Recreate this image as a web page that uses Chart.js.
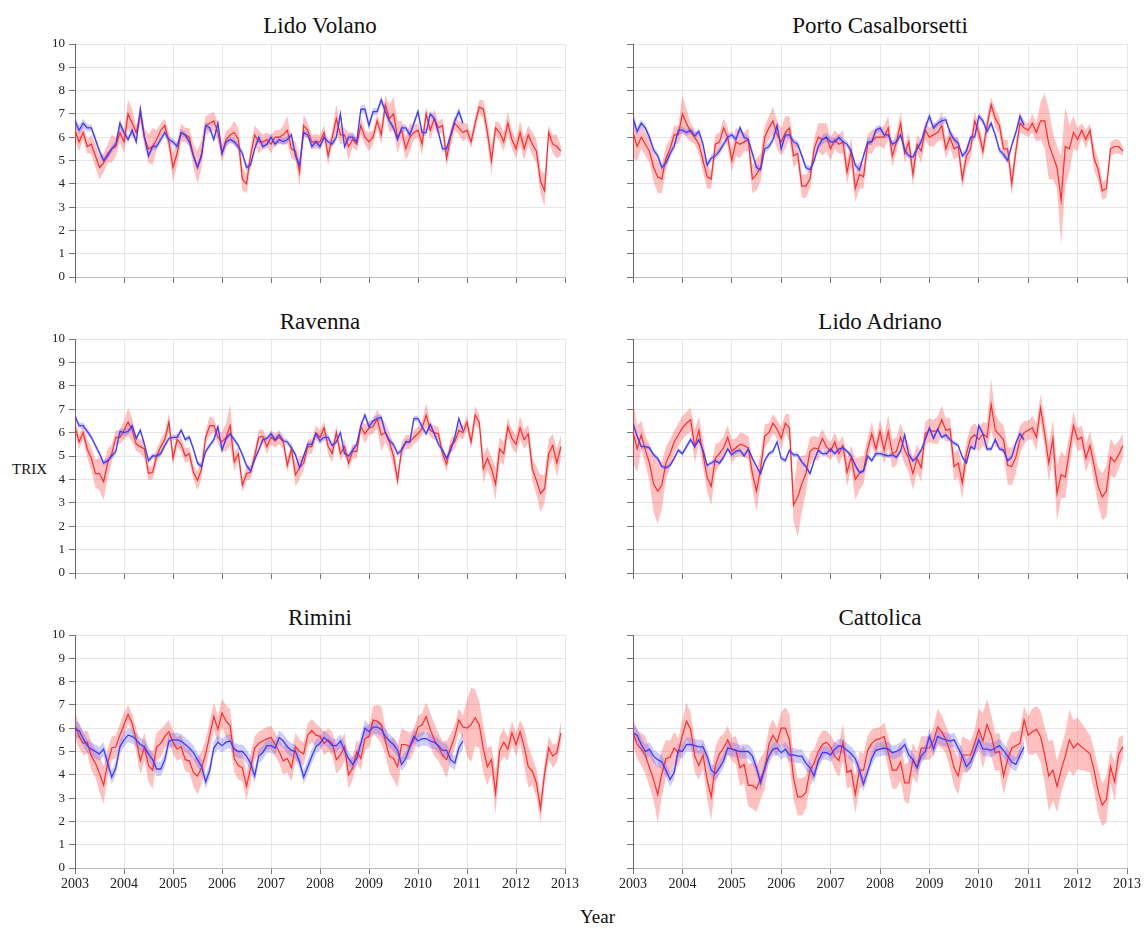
<!DOCTYPE html>
<html>
<head>
<meta charset="utf-8">
<script src="https://cdn.jsdelivr.net/npm/chart.js@4.4.0/dist/chart.umd.min.js"></script>
<style>
  body { margin: 0; background: #fff; width: 1144px; height: 929px; position: relative; overflow: hidden; font-family: "Liberation Serif", serif; }
  .box { position: absolute; }
  .ttl { position: absolute; font-size: 23px; line-height: 26px; text-align: center; color: #111; width: 400px; }
  .lbl { position: absolute; color: #111; }
</style>
</head>
<body>
<div class="ttl" style="left:120px;top:13px">Lido Volano</div>
<div class="ttl" style="left:680px;top:13px">Porto Casalborsetti</div>
<div class="ttl" style="left:120px;top:309px">Ravenna</div>
<div class="ttl" style="left:680px;top:309px">Lido Adriano</div>
<div class="ttl" style="left:120px;top:605px">Rimini</div>
<div class="ttl" style="left:680px;top:605px">Cattolica</div>
<div class="lbl" style="left:12px;top:461px;font-size:15px">TRIX</div>
<div class="lbl" style="left:580px;top:906px;font-size:19px">Year</div>

<script>
// monthly TRIX, Jan 2003 .. Dec 2012 (red) and Jan 2003 .. Dec 2010 (blue)
const startYear = 2003;
const yearTicks = [2003, 2004, 2005, 2006, 2007, 2008, 2009, 2010, 2011, 2012, 2013];
const trixTicks = [0, 1, 2, 3, 4, 5, 6, 7, 8, 9, 10];

// Lido Volano
const lvRed = [
  6.3,5.8,6.2,5.6,5.7,5.2,4.7,4.9,5.3,5.5,5.6,6.2,
  5.8,7.0,6.6,6.2,7.0,6.0,5.5,5.6,5.9,6.3,6.5,5.8,
  4.7,5.3,6.2,6.1,6.0,5.2,4.7,5.3,6.5,6.6,6.7,6.2,
  5.3,5.9,6.1,6.2,5.9,4.2,4.0,5.2,6.1,5.8,5.8,5.9,
  5.7,6.0,6.0,6.1,6.3,5.5,5.4,4.5,6.5,6.3,5.8,5.8,
  5.8,6.2,5.2,6.0,6.8,6.1,6.1,5.6,5.9,5.7,6.5,6.0,
  5.8,6.0,6.7,6.1,7.4,6.8,7.0,6.0,6.3,5.5,6.0,6.2,
  6.3,5.7,7.0,6.3,6.8,6.4,6.5,5.1,6.0,6.6,6.4,6.2,
  6.3,5.8,6.6,7.3,7.2,6.2,5.0,6.4,6.2,5.8,6.6,5.9,
  5.5,6.2,5.5,6.1,5.7,5.4,4.1,3.7,6.2,5.7,5.6,5.4];
const lvRedW = [
  0.4,0.4,0.3,0.3,0.4,0.5,0.5,0.4,0.4,0.6,0.4,0.4,
  0.5,0.6,0.6,0.3,0.4,0.4,0.6,0.8,0.4,0.3,0.3,0.4,
  0.6,0.5,0.4,0.3,0.4,0.5,0.7,0.6,0.4,0.4,0.4,0.4,
  0.4,0.4,0.3,0.5,0.5,0.5,0.4,0.4,0.4,0.5,0.3,0.3,
  0.4,0.3,0.3,0.4,0.6,0.4,0.4,0.6,0.5,0.3,0.3,0.3,
  0.3,0.3,0.4,0.3,0.6,0.4,0.3,0.6,0.3,0.3,0.4,0.3,
  0.4,0.3,0.3,0.4,0.4,0.6,0.7,0.7,0.4,0.5,0.6,0.3,
  0.3,0.5,0.3,0.4,0.4,0.3,0.3,0.4,0.4,0.3,0.3,0.4,
  0.3,0.3,0.3,0.3,0.4,0.5,0.6,0.3,0.4,0.4,0.5,0.4,
  0.4,0.5,0.5,0.4,0.5,0.5,0.5,0.7,0.3,0.4,0.5,0.2];
const lvBlue = [
  6.7,6.3,6.6,6.4,6.4,5.9,5.4,5.0,5.2,5.5,5.7,6.6,
  6.2,5.9,6.3,5.8,7.2,6.0,5.2,5.6,5.6,5.9,6.2,5.9,
  5.8,5.6,6.2,6.1,5.8,5.2,4.7,5.2,6.5,6.4,5.9,6.6,
  5.3,5.8,5.9,5.8,5.6,5.3,4.7,4.8,5.5,6.0,5.6,5.7,
  6.0,5.7,5.9,5.8,5.9,6.1,5.2,4.8,6.2,6.1,5.6,5.8,
  5.6,6.0,5.8,5.7,6.0,7.0,5.6,6.0,6.0,5.8,7.2,7.2,
  6.5,7.1,7.1,7.6,7.1,6.7,6.4,5.9,6.4,6.4,6.1,6.6,
  7.1,6.2,6.2,7.0,6.8,6.2,5.5,5.5,6.1,6.7,7.1,6.6];
const lvBlueW = [
  .2,.2,.2,.15,.15,.15,.15,.15,.15,.15,.15,.2,
  .15,.15,.15,.15,.25,.15,.15,.15,.15,.15,.15,.15,
  .15,.15,.15,.15,.15,.15,.15,.15,.15,.15,.15,.15,
  .15,.15,.15,.15,.15,.15,.15,.15,.15,.15,.15,.15,
  .15,.15,.15,.15,.15,.15,.2,.15,.15,.15,.15,.15,
  .15,.15,.15,.15,.15,.15,.15,.15,.15,.15,.15,.2,
  .2,.15,.15,.2,.15,.15,.15,.15,.15,.15,.15,.15,
  .15,.15,.15,.15,.15,.15,.15,.15,.15,.15,.2,.15];

// Porto Casalborsetti
const pcRed = [
  6.2,5.6,6.0,5.7,5.4,4.7,4.3,4.2,5.1,5.5,6.1,6.1,
  7.0,6.6,6.2,6.0,5.7,5.0,4.3,4.2,5.7,5.8,6.4,6.0,
  5.0,5.8,5.7,5.8,5.9,4.2,4.4,4.7,6.0,6.4,6.7,6.1,
  5.8,6.2,6.4,5.2,5.3,3.9,3.9,4.2,5.5,6.0,5.9,6.0,
  5.5,5.9,5.7,5.8,4.5,5.4,3.8,4.4,4.3,5.7,5.8,6.0,
  6.0,6.0,6.4,5.2,5.8,6.6,5.3,5.8,4.4,5.7,5.4,6.3,
  6.0,6.1,6.2,6.5,5.5,6.0,5.5,5.6,4.2,5.2,5.5,6.7,
  6.2,5.4,6.5,7.4,6.8,6.5,5.5,5.5,4.0,5.4,6.6,6.4,
  6.3,6.6,6.2,6.7,6.7,5.7,5.2,4.7,3.3,5.6,5.5,6.2,
  5.9,6.3,5.9,6.3,5.1,4.6,3.7,3.8,5.5,5.6,5.6,5.4];
const pcRedW = [
  1.1,0.6,0.5,0.5,0.5,0.6,0.7,0.6,0.5,0.4,0.4,0.4,
  0.8,0.6,0.4,0.3,0.4,0.5,0.5,0.4,0.4,0.4,0.4,0.4,
  0.5,0.6,0.6,0.4,0.5,0.6,0.7,0.6,0.5,0.5,0.6,0.6,
  0.6,0.7,0.5,0.5,0.4,0.5,0.5,0.4,0.4,0.6,0.7,0.6,
  0.5,0.4,0.4,0.5,0.5,0.6,0.6,0.6,0.5,0.4,0.5,0.4,
  0.4,0.5,0.5,0.5,0.4,0.5,0.4,0.4,0.5,0.4,0.5,0.4,
  0.4,0.5,0.4,0.6,0.4,0.4,0.5,0.4,0.4,0.5,0.4,0.4,
  0.4,0.4,0.4,0.3,0.4,0.4,0.4,0.4,0.5,0.4,0.4,0.3,
  0.3,0.4,0.4,0.8,1.2,1.5,1.0,0.9,1.9,1.7,1.0,0.7,
  0.5,0.3,0.4,0.3,0.5,0.5,0.4,0.4,0.3,0.3,0.3,0.2];
const pcBlue = [
  6.8,6.25,6.6,6.4,6.0,5.45,5.2,4.7,4.9,5.3,5.6,6.3,
  6.3,6.2,6.3,6.05,6.25,5.7,4.8,5.1,5.2,5.4,5.7,6.0,
  6.1,5.9,6.4,6.0,5.9,5.3,4.7,4.6,5.5,5.6,5.9,6.5,
  5.5,6.1,6.1,5.8,5.7,5.2,4.7,4.6,5.0,5.6,5.9,6.0,
  5.8,5.8,6.0,5.8,5.7,5.4,4.8,4.6,5.2,5.8,5.8,6.3,
  6.4,6.1,6.1,5.7,5.8,6.1,5.45,5.2,5.15,5.5,5.8,6.4,
  6.9,6.4,6.6,6.7,6.75,6.2,5.9,5.75,5.2,5.4,6.0,6.0,
  6.9,6.7,6.25,6.6,6.1,5.45,5.25,5.0,5.65,6.2,6.9,6.5];
const pcBlueW = [
  .2,.2,.15,.15,.15,.15,.15,.15,.15,.15,.15,.15,
  .15,.15,.15,.15,.15,.15,.15,.15,.15,.15,.15,.15,
  .15,.15,.15,.15,.15,.15,.15,.15,.15,.15,.15,.2,
  .15,.15,.15,.15,.15,.15,.15,.15,.15,.15,.2,.2,
  .2,.15,.15,.15,.15,.15,.15,.15,.15,.15,.15,.15,
  .15,.15,.15,.15,.15,.15,.15,.15,.15,.15,.15,.15,
  .2,.15,.15,.15,.15,.15,.15,.15,.15,.15,.15,.15,
  .15,.15,.15,.15,.15,.15,.15,.15,.15,.15,.2,.15];

// Ravenna
const raRed = [
  6.25,5.6,6.0,5.3,4.9,4.25,4.25,3.9,4.7,5.1,5.8,5.8,
  6.1,6.45,6.1,5.5,5.4,5.3,4.25,4.3,5.0,5.4,5.7,6.45,
  4.9,5.7,5.5,5.0,5.1,4.3,3.95,4.45,5.8,6.3,6.3,5.8,
  5.6,5.8,6.3,4.75,5.1,3.75,4.25,4.3,5.0,5.8,5.85,5.4,
  5.8,5.65,5.8,5.6,4.6,5.3,4.2,4.5,4.7,5.4,5.4,6.0,
  5.8,6.2,5.4,5.1,6.0,5.1,5.4,4.7,5.2,5.2,6.25,5.95,
  6.2,6.25,6.6,5.9,6.0,5.6,5.0,3.95,5.3,5.6,5.6,5.8,
  5.95,6.2,6.75,6.1,6.0,5.95,5.1,4.65,5.45,5.6,6.1,6.0,
  6.45,5.6,6.75,6.45,4.45,4.9,4.45,3.8,5.3,5.1,6.25,5.75,
  5.5,6.2,5.7,5.95,4.45,3.95,3.4,3.6,5.1,5.45,4.7,5.4];
const raRedW = [
  0.3,0.3,0.3,0.4,0.5,0.6,0.7,0.8,0.6,0.4,0.3,0.3,
  0.4,0.6,0.5,0.3,0.3,0.4,0.3,0.3,0.3,0.3,0.3,0.4,
  0.3,0.3,0.3,0.3,0.3,0.3,0.4,0.4,0.3,0.4,0.3,0.3,
  0.4,0.6,0.9,0.4,0.3,0.3,0.3,0.3,0.3,0.3,0.3,0.3,
  0.3,0.3,0.3,0.3,0.3,0.3,0.5,0.5,0.3,0.3,0.3,0.3,
  0.3,0.3,0.3,0.4,0.3,0.3,0.3,0.3,0.3,0.3,0.3,0.4,
  0.3,0.3,0.4,0.7,0.4,0.4,0.5,0.3,0.3,0.3,0.3,0.3,
  0.3,0.3,0.5,0.3,0.3,0.3,0.3,0.3,0.3,0.3,0.3,0.3,
  0.3,0.3,0.4,0.3,0.6,0.5,0.5,0.7,0.5,0.5,0.4,0.4,
  0.4,0.5,0.4,0.4,0.5,0.6,0.8,0.6,0.6,0.5,0.6,0.5];
const raBlue = [
  6.7,6.3,6.3,6.05,5.8,5.45,5.1,4.7,4.8,5.0,5.2,6.05,
  6.0,6.05,6.3,5.75,6.1,5.5,4.8,5.0,5.0,5.1,5.45,5.75,
  5.8,5.8,6.1,5.7,5.8,5.3,4.7,4.55,5.2,5.45,5.7,6.25,
  5.25,5.75,5.95,5.7,5.45,5.05,4.6,4.35,4.85,5.25,5.7,5.75,
  5.95,5.7,5.9,5.65,5.6,5.35,5.05,4.5,5.0,5.5,5.5,5.95,
  5.65,5.8,5.8,5.45,5.6,6.0,5.1,5.0,5.25,5.5,6.3,6.75,
  6.25,6.5,6.6,6.65,6.0,5.65,5.5,5.1,5.25,5.6,5.6,6.6,
  6.6,6.25,5.95,6.35,5.95,5.5,5.25,4.9,5.25,5.8,6.6,6.1];
const raBlueW = [
  .15,.12,.12,.12,.12,.12,.12,.12,.12,.12,.15,.15,
  .15,.15,.15,.12,.12,.12,.12,.12,.12,.12,.12,.12,
  .12,.12,.12,.12,.12,.12,.12,.12,.12,.12,.12,.12,
  .12,.12,.12,.12,.12,.12,.12,.12,.12,.12,.12,.12,
  .12,.12,.12,.12,.12,.12,.12,.12,.12,.12,.12,.12,
  .15,.15,.15,.12,.12,.12,.12,.12,.12,.12,.12,.15,
  .15,.15,.15,.15,.12,.12,.12,.12,.12,.12,.12,.12,
  .12,.12,.12,.12,.12,.12,.12,.12,.12,.12,.12,.12];

// Lido Adriano
const laRed = [
  6.05,5.3,5.9,5.25,4.7,3.8,3.5,3.75,4.7,5.1,5.6,5.9,
  6.2,6.4,6.55,5.4,6.1,5.1,4.1,3.7,4.9,5.1,5.35,5.8,
  5.2,5.35,5.5,5.45,5.35,4.25,3.5,4.45,5.85,6.0,6.4,6.15,
  5.75,6.4,6.2,2.9,3.25,3.8,4.25,5.2,5.35,5.3,5.75,5.4,
  5.2,5.6,5.1,5.45,4.3,4.95,4.0,4.25,4.4,5.3,5.95,5.3,
  6.05,5.25,6.05,5.1,5.2,5.8,5.25,4.9,4.25,4.9,4.5,5.95,
  6.1,6.05,6.1,6.55,6.1,6.15,4.55,4.7,3.85,5.1,5.75,5.9,
  5.7,5.95,5.8,7.2,6.1,5.9,5.7,4.6,4.55,4.95,5.7,6.0,
  6.1,6.2,5.8,7.05,5.95,4.7,5.75,3.4,4.2,4.1,5.2,6.3,
  5.7,5.8,4.9,5.45,4.6,3.7,3.25,3.5,4.95,4.75,5.05,5.45];
const laRedW = [
  1.3,1.0,0.6,0.6,0.8,1.2,1.4,1.0,0.7,0.6,0.5,0.5,
  0.5,0.5,0.5,0.7,0.6,0.6,0.6,0.8,0.6,0.5,0.5,0.5,
  0.5,0.4,0.5,0.5,0.5,0.6,0.9,0.6,0.5,0.4,0.4,0.4,
  0.5,0.4,0.6,0.7,1.7,1.2,0.8,0.6,0.5,0.5,0.4,0.4,
  0.4,0.4,0.5,0.4,0.6,0.5,0.9,0.7,0.6,0.5,0.5,0.4,
  0.5,0.6,0.7,0.6,0.6,0.6,0.6,0.6,0.7,0.6,0.6,0.5,
  0.5,0.5,0.6,0.6,0.5,0.5,0.6,0.6,0.7,0.5,0.5,0.5,
  0.5,0.5,0.6,1.1,0.7,0.6,0.6,0.8,0.8,0.7,0.6,0.5,
  0.4,0.5,0.6,0.6,0.6,0.8,0.8,1.2,1.0,0.9,0.7,0.6,
  0.5,0.5,0.6,0.6,0.7,0.8,1.0,1.1,0.8,0.7,0.6,0.5];
const laBlue = [
  6.4,5.85,5.4,5.4,5.35,5.05,4.9,4.55,4.5,4.6,4.9,5.25,
  5.1,5.4,5.7,5.4,5.7,5.25,4.6,4.7,4.8,4.7,4.95,5.3,
  5.05,5.2,5.25,5.0,5.3,4.9,4.55,4.25,4.8,5.1,5.2,5.6,
  4.9,4.8,5.25,5.05,5.05,4.75,4.55,4.25,4.8,5.25,5.1,5.1,
  5.3,5.1,5.3,5.35,5.2,5.0,4.6,4.3,4.35,5.0,4.8,5.1,
  5.1,5.05,5.0,5.05,4.95,5.2,5.9,5.05,4.8,4.95,5.25,5.7,
  6.2,5.75,6.15,5.8,5.9,5.7,5.55,5.45,4.95,4.7,5.4,5.3,
  6.3,5.95,5.3,5.3,5.7,5.3,5.25,4.8,4.95,5.55,5.95,5.7];
const laBlueW = [
  .12,.1,.1,.1,.1,.1,.1,.1,.1,.1,.1,.1,
  .1,.12,.12,.1,.1,.1,.1,.1,.1,.1,.1,.1,
  .1,.1,.1,.1,.1,.1,.1,.1,.1,.1,.1,.1,
  .1,.1,.1,.1,.1,.1,.1,.1,.1,.1,.1,.1,
  .1,.1,.1,.1,.1,.1,.1,.1,.1,.1,.1,.1,
  .1,.1,.1,.1,.1,.1,.12,.1,.1,.1,.1,.1,
  .12,.1,.1,.1,.1,.1,.1,.1,.1,.1,.1,.1,
  .12,.1,.1,.1,.1,.1,.1,.1,.1,.1,.12,.12];

// Rimini
const riRed = [
  6.15,5.65,5.35,5.4,4.8,4.5,4.05,3.55,4.5,5.15,5.2,5.7,
  6.15,6.6,6.2,5.5,4.6,5.2,4.4,4.2,5.2,5.35,5.65,5.85,
  5.4,5.1,5.2,4.65,4.6,4.1,3.95,4.3,4.9,5.7,6.5,5.95,
  6.65,6.3,6.1,4.7,4.4,4.3,3.5,4.3,5.15,5.35,5.45,5.55,
  5.6,5.3,5.0,4.6,4.7,4.3,5.2,5.0,4.9,5.7,5.9,5.7,
  5.65,5.35,5.5,5.35,4.65,4.85,5.2,4.0,4.3,5.0,4.7,5.55,
  5.65,6.35,6.3,6.15,5.45,4.8,4.7,4.35,5.3,5.3,5.2,5.5,
  6.05,6.15,6.5,5.95,5.5,5.2,4.85,4.65,5.15,5.65,6.35,6.05,
  6.0,6.15,6.45,6.15,5.1,4.35,4.65,3.2,5.05,5.4,5.1,5.8,
  5.3,5.85,5.2,4.35,4.15,3.65,2.55,4.05,5.15,4.8,4.95,5.8];
const riRedW = [
  0.6,0.5,0.5,0.5,0.6,0.6,0.8,0.8,0.6,0.5,0.5,0.5,
  0.5,0.4,0.4,0.5,0.6,0.6,0.7,0.8,0.6,0.6,0.5,0.5,
  0.5,0.5,0.5,0.5,0.5,0.6,0.8,0.7,0.6,0.6,0.6,0.6,
  0.6,0.7,0.7,0.6,0.6,0.6,0.6,0.6,0.5,0.5,0.5,0.5,
  0.5,0.5,0.5,0.6,0.6,0.6,0.6,0.5,0.5,0.5,0.5,0.5,
  0.4,0.5,0.5,0.5,0.6,0.6,0.6,0.6,0.5,0.5,0.5,0.5,
  0.5,0.6,0.7,0.8,0.6,0.7,0.9,0.9,0.7,0.6,0.6,0.5,
  0.5,0.5,0.6,0.7,0.7,0.6,0.6,0.8,0.6,0.5,0.5,0.5,
  1.2,1.6,1.2,1.0,1.0,0.8,0.6,0.9,0.6,0.6,0.5,0.5,
  0.5,0.5,0.8,0.9,0.6,0.6,0.6,0.5,0.5,0.5,0.4,0.5];
const riBlue = [
  5.95,5.9,5.55,5.25,5.1,5.0,4.9,5.1,4.5,3.9,4.3,5.2,
  5.5,5.7,5.65,5.5,5.3,5.2,4.9,4.65,4.25,4.25,4.65,5.45,
  5.5,5.5,5.45,5.3,5.15,4.95,4.65,4.35,3.7,4.2,5.15,5.4,
  5.25,5.4,5.45,5.1,5.0,5.0,4.8,4.5,3.95,4.8,4.95,5.25,
  5.25,5.15,5.6,5.45,5.2,5.05,5.0,4.55,3.9,4.35,4.8,5.2,
  5.35,5.6,5.45,5.25,5.25,5.45,5.05,4.7,4.45,4.7,5.35,6.0,
  5.85,6.05,6.05,5.95,5.65,5.45,5.3,5.05,4.45,4.7,5.2,5.65,
  5.45,5.55,5.55,5.45,5.4,5.25,5.05,5.05,4.65,4.5,5.15,5.45];
const riBlueW = [
  .35,.35,.3,.3,.3,.3,.3,.3,.3,.3,.3,.3,
  .3,.3,.3,.3,.3,.3,.3,.3,.3,.3,.3,.3,
  .3,.3,.3,.3,.3,.3,.3,.3,.3,.3,.3,.3,
  .3,.3,.3,.3,.3,.3,.3,.3,.3,.3,.3,.3,
  .3,.3,.3,.3,.3,.3,.3,.3,.3,.3,.3,.3,
  .3,.3,.3,.3,.3,.3,.3,.3,.3,.3,.35,.35,
  .3,.3,.3,.3,.3,.3,.3,.3,.3,.3,.3,.3,
  .3,.3,.3,.3,.3,.3,.3,.3,.3,.3,.3,.35];

// Cattolica
const caRed = [
  5.85,5.3,5.1,4.85,4.3,3.8,3.15,4.05,4.7,4.75,5.15,4.95,
  5.7,6.3,5.95,4.8,4.4,4.85,3.8,3.05,4.4,4.9,5.15,5.5,
  5.1,5.05,4.3,4.45,3.55,3.55,3.4,3.85,4.2,5.3,5.7,5.4,
  6.0,6.0,5.5,3.85,3.05,3.05,3.25,4.2,4.5,5.0,5.3,5.4,
  5.2,4.8,4.6,5.4,4.1,4.2,3.15,4.2,4.2,5.05,5.35,5.5,
  5.55,5.65,4.95,4.2,4.2,4.55,3.65,3.65,4.65,4.3,5.15,5.15,
  5.15,5.45,6.05,5.85,5.5,5.0,4.3,3.95,4.85,4.85,4.85,5.35,
  5.95,5.45,6.15,5.7,4.95,5.0,3.95,4.65,5.15,5.25,5.35,6.35,
  5.7,5.85,5.95,5.65,4.85,3.95,4.2,3.5,4.2,4.8,5.5,5.15,
  5.35,5.2,5.05,4.9,4.2,3.3,2.7,2.95,4.35,3.7,4.9,5.2];
const caRedW = [
  0.6,0.6,0.7,0.8,0.8,0.9,1.2,1.0,0.8,0.7,0.7,0.6,
  0.7,0.8,0.7,0.7,0.6,0.6,0.8,1.0,0.8,0.7,0.6,0.6,
  0.5,0.6,0.8,0.8,0.9,1.0,1.0,0.9,0.8,0.7,0.7,0.6,
  0.7,0.9,1.1,0.9,0.8,0.8,0.7,0.7,0.6,0.6,0.6,0.5,
  0.5,0.6,0.7,0.8,0.7,0.7,0.8,0.8,0.7,0.6,0.6,0.5,
  0.5,0.6,0.7,0.8,0.8,0.8,0.8,0.9,0.7,0.7,0.5,0.5,
  0.5,0.6,0.8,0.7,0.6,0.7,0.8,0.8,0.8,0.7,0.6,0.6,
  0.9,1.2,1.1,0.9,0.8,0.8,0.8,0.8,0.7,0.6,0.6,0.6,
  0.8,1.0,1.0,1.1,1.2,1.5,1.3,1.1,1.0,1.0,1.3,1.2,
  1.1,1.0,0.9,0.8,0.9,1.0,0.9,1.0,0.7,0.8,0.7,0.5];
const caBlue = [
  5.8,5.7,5.3,5.0,5.1,4.8,4.65,4.55,4.2,3.8,4.1,5.05,
  5.0,5.3,5.3,5.25,5.2,5.2,4.8,4.2,4.05,4.3,4.6,5.15,
  5.1,5.05,5.0,5.0,5.0,4.8,4.3,3.65,4.3,4.8,5.1,5.15,
  4.95,5.1,4.85,4.85,4.8,4.8,4.5,4.3,3.95,4.6,4.95,4.95,
  4.85,5.1,5.25,5.2,5.05,4.9,4.7,4.2,3.6,4.15,4.7,5.05,
  5.1,5.15,5.1,4.95,5.0,5.1,5.3,4.85,4.65,4.3,4.8,5.0,
  5.65,5.1,5.65,5.55,5.5,5.45,5.5,5.15,4.8,4.35,4.55,5.0,
  5.5,5.1,5.1,5.05,5.15,5.25,5.05,4.8,4.55,4.45,4.85,5.2];
const caBlueW = [
  .35,.3,.3,.3,.3,.3,.3,.3,.3,.3,.3,.3,
  .3,.3,.3,.3,.3,.3,.3,.3,.3,.3,.3,.3,
  .3,.3,.3,.3,.3,.3,.3,.3,.3,.3,.3,.3,
  .3,.3,.3,.3,.3,.3,.3,.3,.3,.3,.3,.3,
  .3,.3,.3,.3,.3,.3,.3,.3,.3,.3,.3,.3,
  .3,.3,.3,.3,.3,.3,.3,.3,.3,.3,.3,.3,
  .35,.3,.3,.3,.3,.3,.3,.3,.3,.3,.3,.3,
  .3,.3,.3,.3,.3,.3,.3,.3,.3,.3,.3,.3];

const panels = [
  { red: lvRed, redW: lvRedW, blue: lvBlue, blueW: lvBlueW, col: 0, row: 0 },
  { red: pcRed, redW: pcRedW, blue: pcBlue, blueW: pcBlueW, col: 1, row: 0 },
  { red: raRed, redW: raRedW, blue: raBlue, blueW: raBlueW, col: 0, row: 1 },
  { red: laRed, redW: laRedW, blue: laBlue, blueW: laBlueW, col: 1, row: 1 },
  { red: riRed, redW: riRedW, blue: riBlue, blueW: riBlueW, col: 0, row: 2 },
  { red: caRed, redW: caRedW, blue: caBlue, blueW: caBlueW, col: 1, row: 2 },
];

// plot-area geometry
const colLeft = [75, 633], colRight = [565, 1127];
const rowTop = [44, 339, 635], rowBottom = [277, 573, 868];
const yAxisW = 40, padTop = 10, padRight = 20;

const yFont = { family: "'Liberation Serif', serif", size: 13 };
const xFont = { family: "'Liberation Serif', serif", size: 14 };

function pts(vals, w, sign) {
  return vals.map((v, i) => ({ x: startYear + i / 12, y: w ? v + sign * w[i] : v }));
}

panels.forEach(p => {
  const last = p.row === 2;
  const xh = last ? 26 : 8;
  const left = colLeft[p.col] - yAxisW;
  const width = colRight[p.col] - left + padRight;
  const height = padTop + (rowBottom[p.row] - rowTop[p.row]) + xh;

  const box = document.createElement("div");
  box.className = "box";
  box.style.left = left + "px";
  box.style.top = (rowTop[p.row] - padTop) + "px";
  const cv = document.createElement("canvas");
  cv.width = width; cv.height = height;
  box.appendChild(cv);
  document.body.appendChild(box);

  const line = { pointRadius: 0, tension: 0 };
  new Chart(cv, {
    type: "line",
    data: {
      datasets: [
        { ...line, data: pts(p.red, p.redW, -1), borderWidth: 0, fill: false, order: 10 },
        { ...line, data: pts(p.red, p.redW, 1), borderWidth: 0, fill: 0, backgroundColor: "rgba(255,60,60,0.32)", order: 9 },
        { ...line, data: pts(p.blue, p.blueW, -1), borderWidth: 0, fill: false, order: 8 },
        { ...line, data: pts(p.blue, p.blueW, 1), borderWidth: 0, fill: 2, backgroundColor: "rgba(100,100,255,0.33)", order: 7 },
        { ...line, data: pts(p.red), borderColor: "#ff2a2a", borderWidth: 1.2, fill: false, order: 6 },
        { ...line, data: pts(p.blue), borderColor: "#3c3cff", borderWidth: 1.3, fill: false, order: 5 },
      ]
    },
    options: {
      responsive: false,
      animation: false,
      devicePixelRatio: 1,
      layout: { padding: { top: padTop, right: padRight, left: 0, bottom: 0 } },
      plugins: { legend: { display: false }, tooltip: { enabled: false }, title: { display: false } },
      scales: {
        x: {
          type: "linear", min: 2003, max: 2013,
          afterBuildTicks: s => { s.ticks = yearTicks.map(v => ({ value: v })); },
          afterFit: s => { s.height = xh; s.paddingLeft = 0; s.paddingRight = 0; },
          ticks: { display: last, font: xFont, color: "#222", padding: 2, maxRotation: 0, autoSkip: false, callback: v => String(v) },
          grid: { color: "#e6e6e6", tickColor: "#777", tickLength: 6, lineWidth: 1 },
          border: { color: "#bbb" }
        },
        y: {
          min: 0, max: 10,
          afterBuildTicks: s => { s.ticks = trixTicks.map(v => ({ value: v })); },
          afterFit: s => { s.width = yAxisW; s.paddingTop = 0; s.paddingBottom = 0; },
          ticks: { display: p.col === 0, font: yFont, color: "#222", padding: 4 },
          grid: { color: "#e6e6e6", tickColor: "#777", tickLength: 6, lineWidth: 1 },
          border: { color: "#666" }
        }
      }
    }
  });
});
</script>
</body>
</html>
